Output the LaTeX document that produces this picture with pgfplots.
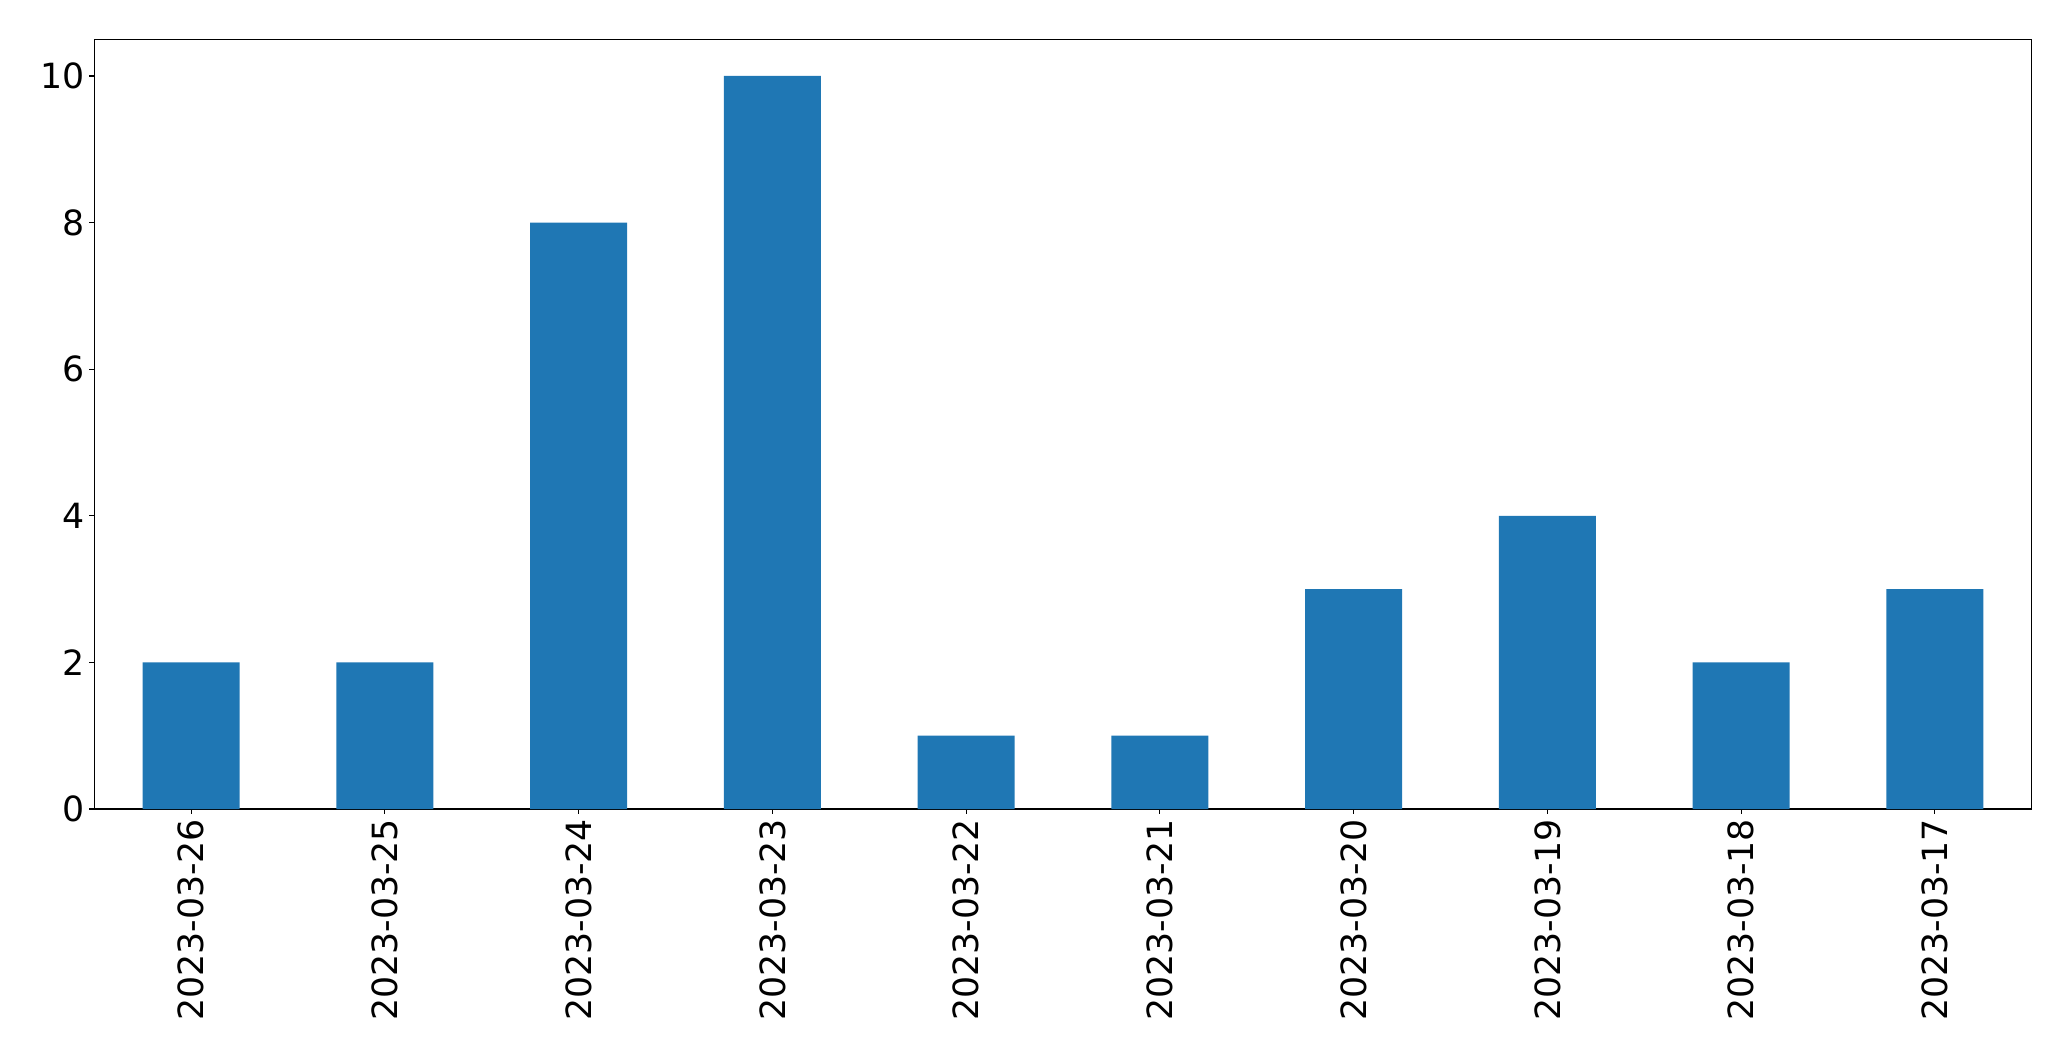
\documentclass[border=0pt]{standalone}
\usepackage{fontspec}
\setmainfont{DejaVu Sans}
\usepackage{pgfplots}
\pgfplotsset{compat=1.18}
\definecolor{mplblue}{HTML}{1F77B4}
\begin{document}
\begin{tikzpicture}
\begin{axis}[
  name=ax,
  scale only axis,
  width=1394.9pt, height=554.2pt,
  xmin=-0.5, xmax=9.5, ymin=0, ymax=10.5,
  axis line style={line width=0.8pt},
  every tick/.style={black, line width=0.8pt},
  tick align=outside,
  major tick length=3.5pt,
  xtick={0,...,9},
  xticklabels={2023-03-26,2023-03-25,2023-03-24,2023-03-23,2023-03-22,2023-03-21,2023-03-20,2023-03-19,2023-03-18,2023-03-17},
  ytick={0,2,4,6,8,10},
  xtick pos=bottom, ytick pos=left,
  /pgf/number format/assume math mode=true,
  tick label style={font=\fontsize{25}{29}\selectfont},
  xticklabel style={rotate=90, anchor=east, inner sep=0pt, xshift=-3.5pt},
  yticklabel style={anchor=east, inner sep=0pt, xshift=-3.5pt},
]
\addplot[ybar, bar width=0.5, fill=mplblue, draw=none] coordinates {
(0,2) (1,2) (2,8) (3,10) (4,1) (5,1) (6,3) (7,4) (8,2) (9,3)
};
\end{axis}
\path[use as bounding box] ([xshift=-67.9pt,yshift=-181.4pt]ax.south west) rectangle ([xshift=28.3pt,yshift=28.3pt]ax.north east);
\end{tikzpicture}
\end{document}
